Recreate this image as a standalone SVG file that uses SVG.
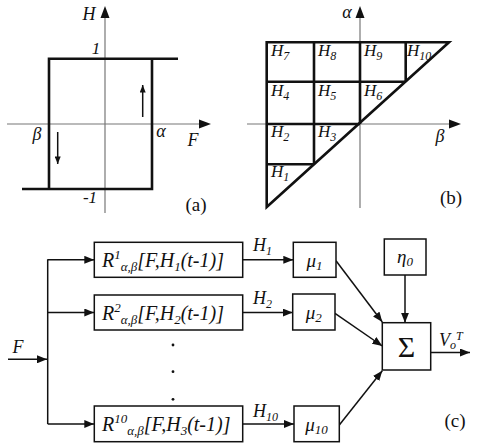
<svg xmlns="http://www.w3.org/2000/svg" width="478" height="445" viewBox="0 0 478 445">
<style>
text{font-family:'Liberation Serif','DejaVu Serif',serif;fill:#111}
.it{font-style:italic}
.ax{stroke:#777;stroke-width:1.2;fill:none}
.thk{stroke:#111;stroke-width:2.6;fill:none;stroke-linejoin:miter}
.box{stroke:#111;stroke-width:1.5;fill:#fff}
.ln{stroke:#111;stroke-width:1.5;fill:none}
.ah{fill:#111}
</style>
<defs>
<marker id="arr" viewBox="0 0 10 8" refX="10" refY="4" markerWidth="10" markerHeight="8" markerUnits="userSpaceOnUse" orient="auto">
<path d="M0,0 L10,4 L0,8 Z" fill="#111"/>
</marker>
<marker id="arrs" viewBox="0 0 10 8" refX="10" refY="4" markerWidth="8" markerHeight="6" markerUnits="userSpaceOnUse" orient="auto">
<path d="M0,0 L10,4 L0,8 Z" fill="#111"/>
</marker>
</defs>
<g font-family="Liberation Serif, serif">
<!-- Panel (a) -->
<g id="panel-a">
<line class="ax" x1="105" y1="213" x2="105" y2="16"/>
<path class="ah" d="M105,6 L100.5,18 L109.5,18 Z"/>
<line class="ax" x1="7" y1="124" x2="200" y2="124"/>
<path class="ah" d="M211,124 L199,119.5 L199,128.5 Z"/>
<path class="thk" d="M178,58.7 H49 V189 M22,189 H152 V58.7"/>
<line class="ln" x1="142.7" y1="117" x2="142.7" y2="85" stroke-width="1.2" marker-end="url(#arrs)"/>
<line class="ln" x1="57.7" y1="132" x2="57.7" y2="164" stroke-width="1.2" marker-end="url(#arrs)"/>
<text class="it" x="89" y="20" font-size="18" text-anchor="middle">H</text>
<text class="it" x="96" y="54" font-size="17" text-anchor="middle">1</text>
<text class="it" x="37" y="140" font-size="18" text-anchor="middle">β</text>
<text class="it" x="161" y="137" font-size="18" text-anchor="middle">α</text>
<text class="it" x="193" y="146" font-size="18" text-anchor="middle">F</text>
<text class="it" x="90" y="203" font-size="17" text-anchor="middle">-1</text>
<text x="196" y="211" font-size="19" text-anchor="middle">(a)</text>
</g>

<!-- Panel (b) -->
<g id="panel-b">
<line class="ax" x1="360" y1="208" x2="360" y2="16"/>
<path class="ah" d="M360,6 L355.5,18 L364.5,18 Z"/>
<line class="ax" x1="247" y1="124" x2="450" y2="124"/>
<path class="ah" d="M461,124 L449,119.5 L449,128.5 Z"/>
<path class="thk" d="M266.7,42.3 H449 L266.7,207 Z"/>
<path class="thk" d="M314,42.3 V164.3 M360,42.3 V124 M405.7,42.3 V81.7 M266.7,81.7 H405.7 M266.7,124 H360 M266.7,164.3 H314"/>
<g font-size="17" class="it">
<text class="it" x="271" y="56">H<tspan font-size="12" dy="4">7</tspan></text>
<text class="it" x="318" y="56">H<tspan font-size="12" dy="4">8</tspan></text>
<text class="it" x="364" y="56">H<tspan font-size="12" dy="4">9</tspan></text>
<text class="it" x="407" y="56">H<tspan font-size="12" dy="4">10</tspan></text>
<text class="it" x="271" y="96">H<tspan font-size="12" dy="4">4</tspan></text>
<text class="it" x="318" y="96">H<tspan font-size="12" dy="4">5</tspan></text>
<text class="it" x="364" y="96">H<tspan font-size="12" dy="4">6</tspan></text>
<text class="it" x="271" y="137">H<tspan font-size="12" dy="4">2</tspan></text>
<text class="it" x="318" y="137">H<tspan font-size="12" dy="4">3</tspan></text>
<text class="it" x="271" y="177">H<tspan font-size="12" dy="4">1</tspan></text>
</g>
<text class="it" x="347" y="18" font-size="18" text-anchor="middle">α</text>
<text class="it" x="440" y="142" font-size="18" text-anchor="middle">β</text>
<text x="451" y="204" font-size="19" text-anchor="middle">(b)</text>
</g>

<!-- Panel (c) connectors -->
<g id="connectors">
<line class="ln" x1="8" y1="359.3" x2="47" y2="359.3" marker-end="url(#arr)"/>
<line class="ln" x1="47.7" y1="259.3" x2="47.7" y2="424"/>
<line class="ln" x1="47.7" y1="259.8" x2="94.3" y2="259.8" marker-end="url(#arr)"/>
<line class="ln" x1="47.7" y1="312.5" x2="94.3" y2="312.5" marker-end="url(#arr)"/>
<line class="ln" x1="47.7" y1="424" x2="94.3" y2="424" marker-end="url(#arr)"/>
<line class="ln" x1="242.7" y1="259.8" x2="293.3" y2="259.8" marker-end="url(#arr)"/>
<line class="ln" x1="242.7" y1="312.5" x2="292.7" y2="312.5" marker-end="url(#arr)"/>
<line class="ln" x1="242.7" y1="424" x2="294" y2="424" marker-end="url(#arr)"/>
<line class="ln" x1="336" y1="260.7" x2="382.3" y2="322" marker-end="url(#arr)"/>
<line class="ln" x1="335" y1="313.3" x2="382.3" y2="346" marker-end="url(#arr)"/>
<line class="ln" x1="339.3" y1="425" x2="382.3" y2="370.7" marker-end="url(#arr)"/>
<line class="ln" x1="405" y1="275" x2="405" y2="322.7" marker-end="url(#arr)"/>
<line class="ln" x1="430.7" y1="352.5" x2="470" y2="352.5" marker-end="url(#arr)"/>
</g>
<g id="conn-labels" font-size="18">
<text class="it" x="18" y="353" text-anchor="middle">F</text>
<text class="it" x="253" y="251">H<tspan font-size="12" dy="4">1</tspan></text>
<text class="it" x="253" y="304">H<tspan font-size="12" dy="4">2</tspan></text>
<text class="it" x="253" y="417">H<tspan font-size="12" dy="4">10</tspan></text>
<text class="it" x="439" y="346">V<tspan font-size="12" dy="3">o</tspan><tspan font-size="12" dy="-9">T</tspan></text>
</g>

<!-- Panel (c) nodes -->
<g id="R1">
<rect class="box" x="94.3" y="242.3" width="148.4" height="35"/>
<text class="it" x="102" y="267" font-size="20">R<tspan font-size="13" dy="-8">1</tspan><tspan font-size="13" dy="12">α,β</tspan><tspan dy="-4">[F,H</tspan><tspan font-size="13" dy="4">1</tspan><tspan dy="-4">(t-1)]</tspan></text>
</g>
<g id="R2">
<rect class="box" x="94.3" y="295" width="148.4" height="35"/>
<text class="it" x="102" y="320" font-size="20">R<tspan font-size="13" dy="-8">2</tspan><tspan font-size="13" dy="12">α,β</tspan><tspan dy="-4">[F,H</tspan><tspan font-size="13" dy="4">2</tspan><tspan dy="-4">(t-1)]</tspan></text>
</g>
<g id="R10">
<rect class="box" x="94.3" y="406" width="148.4" height="35.7"/>
<text class="it" x="102" y="431" font-size="20">R<tspan font-size="13" dy="-8">10</tspan><tspan font-size="13" dy="12">α,β</tspan><tspan dy="-4">[F,H</tspan><tspan font-size="13" dy="4">3</tspan><tspan dy="-4">(t-1)]</tspan></text>
</g>
<g id="dots" fill="#111">
<circle cx="173" cy="345" r="1.4"/>
<circle cx="173" cy="371.7" r="1.4"/>
<circle cx="173" cy="399.3" r="1.4"/>
</g>
<g id="mu1">
<rect class="box" x="293.3" y="242.3" width="42.7" height="35"/>
<text class="it" x="314.6" y="267" font-size="19" text-anchor="middle">μ<tspan font-size="13" dy="3">1</tspan></text>
</g>
<g id="mu2">
<rect class="box" x="292.7" y="294" width="42.3" height="36"/>
<text class="it" x="313.8" y="319" font-size="19" text-anchor="middle">μ<tspan font-size="13" dy="3">2</tspan></text>
</g>
<g id="mu10">
<rect class="box" x="294" y="406" width="45.3" height="35.7"/>
<text class="it" x="316.6" y="431" font-size="19" text-anchor="middle">μ<tspan font-size="13" dy="3">10</tspan></text>
</g>
<g id="eta0">
<rect class="box" x="384.3" y="239" width="41.7" height="36"/>
<text class="it" x="405" y="263" font-size="19" text-anchor="middle">η<tspan font-size="13" dy="3">0</tspan></text>
</g>
<g id="sigma">
<rect class="box" x="382.3" y="322.7" width="48.4" height="47.3"/>
<text x="406.5" y="357" font-size="30" text-anchor="middle">Σ</text>
</g>
<text x="455" y="427" font-size="19" text-anchor="middle">(c)</text>
</g>
</svg>
